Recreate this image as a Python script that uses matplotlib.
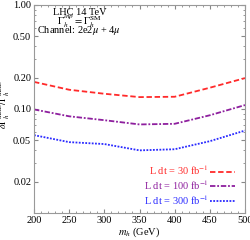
import matplotlib
matplotlib.use("Agg")
import matplotlib.pyplot as plt
from matplotlib.ticker import FixedLocator, MultipleLocator, NullFormatter

plt.rcParams['font.family'] = ['Liberation Serif', 'DejaVu Serif']
plt.rcParams['mathtext.fontset'] = 'stix'
plt.rcParams['font.size'] = 7.5

# masses (GeV)
mh = [200, 250, 300, 350, 400, 450, 500]
# relative width uncertainty for three luminosities
err_30 = [0.182, 0.153, 0.140, 0.130, 0.131, 0.160, 0.198]
err_100 = [0.099, 0.085, 0.078, 0.071, 0.072, 0.087, 0.109]
err_300 = [0.056, 0.048, 0.046, 0.040, 0.041, 0.049, 0.062]
labels = [r'L dt = 30 fb$^{-1}$', r'L dt = 100 fb$^{-1}$', r'L dt = 300 fb$^{-1}$']
colors = ['#ff2a2a', '#8e1f9e', '#2a2aff']

fig = plt.figure(figsize=(2.5, 2.4), dpi=100)
ax = fig.add_axes([0.136, 0.1125, 0.844, 0.867])

ax.plot(mh, err_30, color=colors[0], ls=(0, (3, 1.5)), lw=1.3, label=labels[0])
ax.plot(mh, err_100, color=colors[1], ls=(0, (3, 1, 1, 1)), lw=1.3, label=labels[1])
ax.plot(mh, err_300, color=colors[2], ls=(0, (1, 0.8)), lw=1.3, label=labels[2])

ax.set_yscale('log')
ax.set_xlim(200, 500)
ax.set_ylim(0.01, 1.0)
ax.yaxis.set_major_locator(FixedLocator([0.02, 0.05, 0.1, 0.2, 0.5, 1.0]))
ax.set_yticklabels(['0.02', '0.05', '0.10', '0.20', '0.50', '1.00'])
ax.yaxis.set_minor_formatter(NullFormatter())
ax.xaxis.set_major_locator(MultipleLocator(50))
ax.xaxis.set_minor_locator(MultipleLocator(10))
ax.tick_params(which='both', direction='in', top=True, right=True, color='#888888', pad=2)
ax.tick_params(which='major', length=3)
ax.tick_params(which='minor', length=1.5)
for s in ax.spines.values():
    s.set_color('#999999')

ax.set_xlabel(r'$m_h$ (GeV)')
ax.xaxis.set_label_coords(0.5, -0.062, transform=ax.transAxes)
ax.set_ylabel(r'$\delta\Gamma_h^{\rm meas}/\Gamma_h^{\rm meas}$', fontsize=7)
ax.yaxis.set_label_coords(-0.105, 0.52, transform=ax.transAxes)

ax.text(0.215, 0.965, 'LHC 14 TeV', transform=ax.transAxes, ha='center', va='center')
ax.text(0.215, 0.922, r'$\Gamma_h^{inp} = \Gamma_h^{\rm SM}$', transform=ax.transAxes, ha='center', va='center')
ax.text(0.215, 0.878, r'Channel: 2e2$\mu$ + 4$\mu$', transform=ax.transAxes, ha='center', va='center')

leg = ax.legend(loc='lower right', bbox_to_anchor=(0.985, -0.005), frameon=False, markerfirst=False,
                handlelength=2.4, handletextpad=0.1, labelspacing=0.1, borderpad=0.2)
for t, c in zip(leg.get_texts(), colors):
    t.set_color(c)

fig.savefig('out.png', dpi=100)
